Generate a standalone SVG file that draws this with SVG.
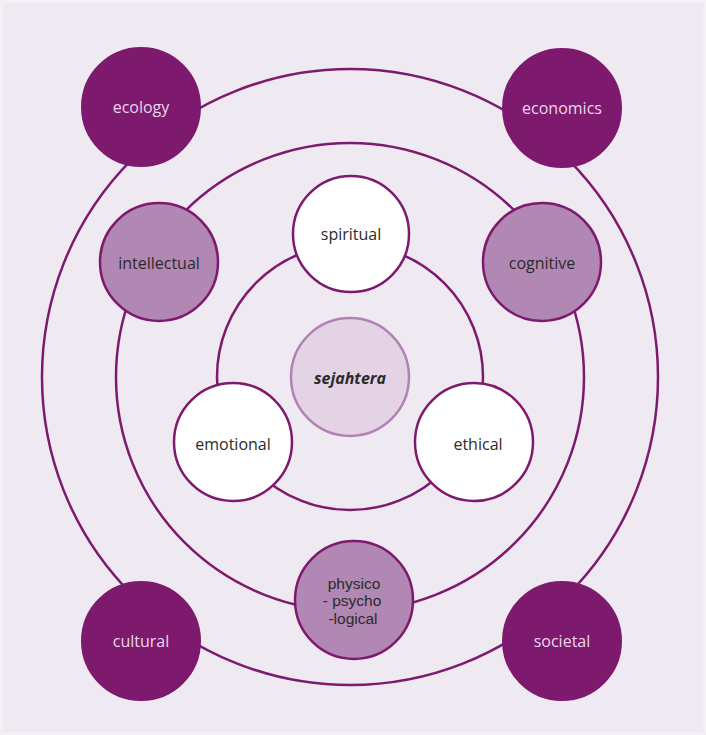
<svg xmlns="http://www.w3.org/2000/svg" width="706" height="735" viewBox="0 0 706 735">
<style>
.ring{fill:none;stroke:#7e1a6e;stroke-width:2.5}
.dark{fill:#7e1a6e;stroke:#7e1a6e;stroke-width:2}
.mid{fill:#b187b3;stroke:#7e1a6e;stroke-width:2.5}
.inner{fill:#ffffff;stroke:#7e1a6e;stroke-width:2.5}
.core{fill:#e3d3e5;stroke:#b182b3;stroke-width:2.5}
text{font-family:"Open Sans","Noto Sans",sans-serif;font-size:16px;text-anchor:middle;dominant-baseline:central}
.lt{fill:#ecd6ea}
.dk{fill:#2b2b2b}
.ml{font-family:"Liberation Sans",Arial,sans-serif;font-size:15.5px}
</style>
<rect x="0" y="0" width="706" height="735" fill="#efe9f2"/>
<rect x="1.5" y="1.5" width="703" height="732" fill="none" stroke="#f6f3f8" stroke-width="2"/>
<g id="connectors">
<circle class="ring" cx="350" cy="377" r="308"/>
<circle class="ring" cx="350" cy="377" r="234"/>
<circle class="ring" cx="350" cy="377" r="133"/>
</g>
<g id="ecology"><circle class="dark" cx="141" cy="107" r="59"/><text class="lt" x="141" y="107">ecology</text></g>
<g id="economics"><circle class="dark" cx="562" cy="108" r="59"/><text class="lt" x="562" y="108">economics</text></g>
<g id="cultural"><circle class="dark" cx="141" cy="641" r="59"/><text class="lt" x="141" y="641">cultural</text></g>
<g id="societal"><circle class="dark" cx="562" cy="641" r="59"/><text class="lt" x="562" y="641">societal</text></g>
<g id="intellectual"><circle class="mid" cx="159" cy="262" r="59"/><text class="dk" x="159" y="263">intellectual</text></g>
<g id="cognitive"><circle class="mid" cx="542" cy="262" r="59"/><text class="dk" x="542" y="263">cognitive</text></g>
<g id="physico-psycho-logical"><circle class="mid" cx="354" cy="600" r="59"/><text class="dk ml" x="354" y="583">physico</text><text class="dk ml" x="352" y="600.5">- psycho</text><text class="dk ml" x="353" y="618">-logical</text></g>
<g id="spiritual"><circle class="inner" cx="351" cy="234" r="58"/><text class="dk" x="351" y="234">spiritual</text></g>
<g id="emotional"><circle class="inner" cx="233" cy="442" r="59"/><text class="dk" x="233" y="444">emotional</text></g>
<g id="ethical"><circle class="inner" cx="474" cy="442" r="59"/><text class="dk" x="478" y="444">ethical</text></g>
<g id="sejahtera"><circle class="core" cx="350" cy="377" r="59"/><text class="dk" x="350" y="378" font-weight="bold" font-style="italic">sejahtera</text></g>
</svg>
